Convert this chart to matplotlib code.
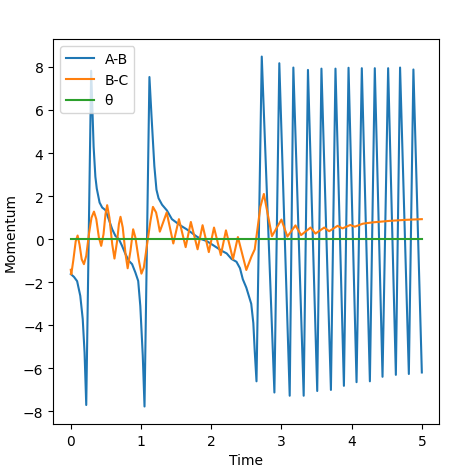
import matplotlib
matplotlib.use("Agg")
from matplotlib import pyplot as plt

# A-B momentum (time, value)
ab_time = [0.00, 0.045, 0.09, 0.135, 0.17, 0.196, 0.22, 0.29, 0.325, 0.35,
           0.37, 0.41, 0.447, 0.494, 0.54, 0.59, 0.636, 0.685, 0.73, 0.78,
           0.826, 0.873, 0.92, 0.96, 0.99, 1.025, 1.05, 1.12, 1.15, 1.19,
           1.22, 1.25, 1.30, 1.37, 1.44, 1.51, 1.58, 1.65, 1.72, 1.79,
           1.86, 1.93, 2.00, 2.08, 2.15, 2.22, 2.29, 2.36, 2.41, 2.45,
           2.50, 2.57, 2.60, 2.62, 2.645, 2.72, 2.90, 2.97, 3.118, 3.17,
           3.317, 3.378, 3.51, 3.57, 3.705, 3.77, 3.89, 3.956, 4.07, 4.145,
           4.26, 4.33, 4.44, 4.52, 4.63, 4.69, 4.815, 4.88, 5.00]
ab_value = [-1.62, -1.75, -1.95, -2.63, -3.71, -5.26, -7.7, 7.82, 4.3, 2.9,
            2.35, 1.7, 1.47, 1.35, 0.93, 0.46, 0.15, 0.0, -0.31, -0.7,
            -1.0, -1.16, -1.55, -1.94, -3.1, -5.4, -7.77, 7.53, 5.7, 3.4,
            2.3, 1.9, 1.6, 1.33, 0.93, 0.76, 0.6, 0.46, 0.3, 0.13,
            0.0, -0.08, -0.22, -0.39, -0.54, -0.66, -0.92, -1.05, -1.35, -1.86,
            -2.25, -3.0, -3.9, -5.2, -6.6, 8.48, -7.12, 8.17, -7.27, 7.97,
            -7.27, 7.86, -7.05, 7.92, -7.0, 7.92, -6.81, 7.96, -6.64, 7.94,
            -6.6, 7.94, -6.39, 7.94, -6.3, 7.97, -6.26, 7.88, -6.19]

# B-C momentum
bc_time = [0.00, 0.007, 0.035, 0.07, 0.097, 0.125, 0.155, 0.187, 0.22, 0.258,
           0.295, 0.33, 0.363, 0.40, 0.433, 0.466, 0.494, 0.518, 0.55, 0.59,
           0.622, 0.66, 0.685, 0.708, 0.74, 0.78, 0.81, 0.85, 0.888, 0.92,
           0.97, 1.006, 1.04, 1.087, 1.135, 1.17, 1.215, 1.24, 1.268, 1.366,
           1.46, 1.54, 1.636, 1.71, 1.806, 1.877, 1.966, 2.04, 2.137, 2.21,
           2.31, 2.38, 2.50, 2.574, 2.62, 2.66, 2.70, 2.75, 2.865, 3.0,
           3.085, 3.20, 3.28, 3.415, 3.485, 3.61, 3.68, 3.80, 3.87, 3.98,
           4.045, 4.16, 4.30, 4.54, 4.78, 5.00]
bc_value = [-1.42, -1.63, -1.0, -0.1, 0.17, -0.26, -0.93, -1.16, -0.77, 0.23,
            1.0, 1.28, 0.93, 0.08, -0.31, 0.23, 1.16, 1.58, 1.0, -0.23,
            -0.9, -0.08, 0.7, 1.04, 0.54, -0.7, -1.35, -0.54, 0.46, 0.08,
            -1.0, -1.6, -1.32, -0.23, 0.85, 1.5, 1.24, 0.85, 0.35, 1.24,
            -0.2, 0.93, -0.37, 0.8, -0.47, 0.65, -0.6, 0.54, -0.74, 0.41,
            -0.93, 0.1, -1.43, -0.8, -0.47, 0.5, 1.5, 2.1, 0.14, 0.91,
            0.12, 0.64, 0.19, 0.54, 0.26, 0.54, 0.37, 0.62, 0.5, 0.66,
            0.58, 0.72, 0.78, 0.85, 0.9, 0.93]

# theta stays at zero
theta_time = [0.0, 5.0]
theta_value = [0.0, 0.0]

fig = plt.figure(figsize=(4.63, 4.77), dpi=100)
ax = fig.add_axes([0.115, 0.109, 0.834, 0.807])

ax.plot(ab_time, ab_value, label='A-B')
ax.plot(bc_time, bc_value, label='B-C')
ax.plot(theta_time, theta_value, label='θ')

ax.set_xlabel("Time")
ax.set_ylabel("Momentum")
ax.legend(loc='upper left')

plt.savefig("out.png", dpi=100)
